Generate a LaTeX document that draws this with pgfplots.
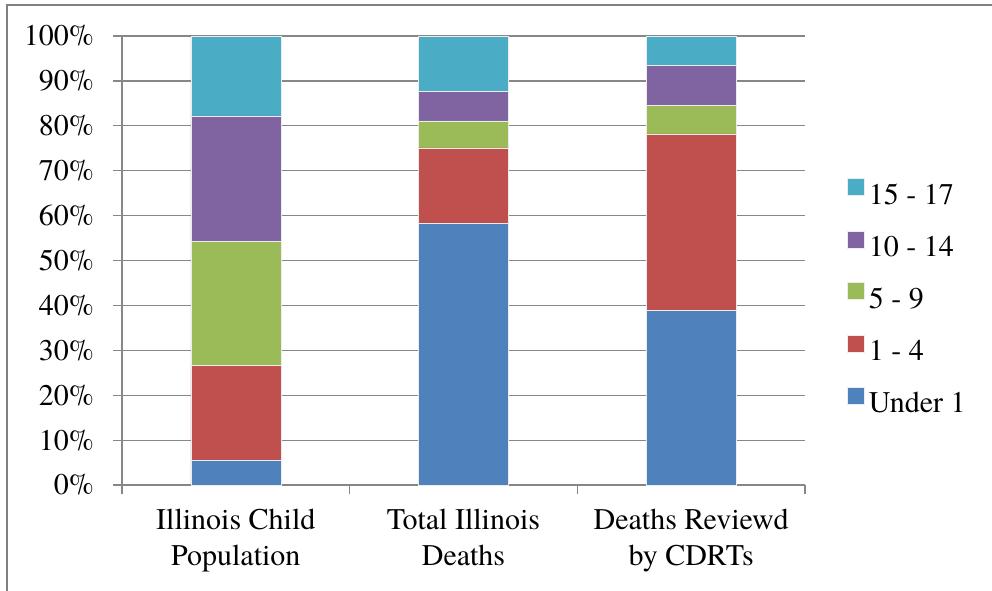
\documentclass[border=0pt]{standalone}
\usepackage{pgfplots}
\pgfplotsset{compat=1.18}
\usepackage{fontspec}
\IfFontExistsTF{texgyretermes-regular.otf}
  {\setmainfont{texgyretermes-regular.otf}}
  {\setmainfont{DejaVu Serif}}

\definecolor{cUnder}{HTML}{4F81BD}
\definecolor{cOneFour}{HTML}{C0504D}
\definecolor{cFiveNine}{HTML}{9BBB59}
\definecolor{cTenFourteen}{HTML}{8064A2}
\definecolor{cFifteen}{HTML}{4BACC6}
\definecolor{gridgray}{RGB}{135,135,135}
\definecolor{framegray}{RGB}{128,128,128}

\begin{document}
\begin{tikzpicture}
\useasboundingbox (0,0) rectangle (496pt,-295pt);
% outer frame
\draw[framegray, line width=0.6pt] (3.5pt,-296pt) -- (3.5pt,-2.5pt) -- (497pt,-2.5pt);

\begin{axis}[
  at={(61pt,-242.5pt)}, anchor=south west,
  scale only axis,
  width=341.5pt, height=224.5pt,
  ybar stacked, bar width=45pt,
  xmin=-0.5, xmax=2.5, ymin=0, ymax=100,
  axis x line*=bottom, axis y line*=left,
  axis line style={gridgray, line width=0.6pt},
  every tick/.style={gridgray, line width=0.6pt},
  tick align=outside,
  major tick length=4.5pt,
  ytick={0,10,...,100},
  yticklabels={0\%,10\%,20\%,30\%,40\%,50\%,60\%,70\%,80\%,90\%,100\%},
  yticklabel style={anchor=east, xshift=-6pt},
  ymajorgrids,
  grid style={gridgray, line width=0.6pt},
  xtick={-0.5,0.5,1.5,2.5},
  xticklabels={},
  extra x ticks={0,1,2},
  extra x tick labels={Illinois Child\\Population, Total Illinois\\Deaths, Deaths Reviewd\\by CDRTs},
  extra x tick style={major tick length=0pt, grid=none,
    xticklabel style={align=center, anchor=north, yshift=-8.5pt,
      font=\fontsize{15}{18}\selectfont}},
  font=\fontsize{15}{18}\selectfont,
  ticklabel style={font=\fontsize{15}{18}\selectfont},
  reverse legend,
  legend cell align=left,
  legend style={at={(rel axis cs:1.0615,0.4187)}, anchor=west, draw=none,
    fill=none, inner sep=0pt, row sep=11.5pt,
    font=\fontsize{15}{18}\selectfont,
    nodes={inner xsep=2pt, inner ysep=0pt}},
  legend image code/.code={\fill[#1] (0pt,0pt) rectangle (8.5pt,8.5pt);},
  every axis plot/.append style={draw=white!85!gray, line width=0.3pt},
]
\addplot[fill=cUnder] coordinates {(0,5.4) (1,58.3) (2,38.9)};
\addplot[fill=cOneFour] coordinates {(0,21.3) (1,16.8) (2,39.3)};
\addplot[fill=cFiveNine] coordinates {(0,27.6) (1,6.0) (2,6.4)};
\addplot[fill=cTenFourteen] coordinates {(0,27.9) (1,6.6) (2,8.9)};
\addplot[fill=cFifteen] coordinates {(0,17.8) (1,12.3) (2,6.5)};
\legend{Under 1, 1 - 4, 5 - 9, 10 - 14, 15 - 17}
\end{axis}
\end{tikzpicture}
\end{document}
